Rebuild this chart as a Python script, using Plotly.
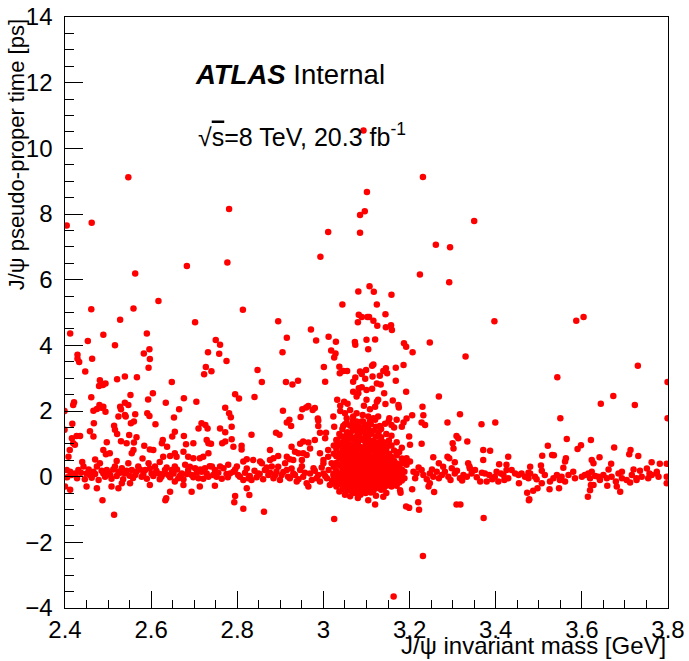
import plotly.graph_objects as go

# ---------------- data (J/psi mass [GeV], pseudo-proper time [ps]) ----------------
upper_points = [
    (2.547, 9.12), (2.404, 7.65), (2.462, 7.73), (2.781, 8.15), (2.563, 6.19), (2.683, 6.42),
    (2.777, 6.52), (2.617, 5.35), (2.461, 5.10), (2.559, 5.12), (2.813, 5.08), (3.093, 10.54),
    (3.231, 9.13), (3.101, 8.67), (3.096, 8.08), (3.085, 7.97), (3.011, 7.45), (3.085, 7.43),
    (3.261, 7.06), (3.294, 6.99), (2.993, 6.70), (3.224, 6.16), (3.292, 5.92), (3.107, 5.80),
    (3.081, 5.64), (3.117, 5.63), (3.158, 5.54), (3.044, 5.24), (3.124, 5.24), (3.350, 7.79),
    (3.587, 4.75), (3.604, 4.86), (3.730, 3.38), (3.543, 3.03), (3.799, 2.88), (3.673, 2.46),
    (3.644, 2.22), (3.723, 2.18), (3.550, 1.78), (3.799, 1.78),
]

mid_right_points = [
    (3.144, 4.95), (3.089, 4.86), (3.102, 4.86), (3.106, 4.86), (3.116, 4.75), (3.125, 4.60),
    (3.145, 4.55), (3.157, 4.61), (3.159, 4.47), (3.397, 4.73), (3.100, 4.17), (3.120, 4.18),
    (3.104, 3.88), (3.187, 4.06), (3.192, 3.96), (3.247, 4.09), (3.207, 3.79), (3.330, 3.66),
    (3.186, 3.40), (3.168, 3.32), (3.145, 3.30), (3.139, 3.22), (3.148, 3.15), (3.113, 3.38),
    (3.116, 3.42), (3.085, 3.20), (3.089, 3.13), (3.097, 2.98), (3.099, 3.25), (3.114, 3.05),
    (3.131, 3.07), (3.168, 2.92), (3.124, 2.84), (3.133, 2.81), (3.192, 2.59), (3.268, 2.44),
    (3.100, 2.64), (3.113, 2.68), (3.089, 2.72), (3.141, 2.54), (3.161, 2.32), (3.174, 2.18),
    (3.175, 2.11), (3.230, 2.13), (3.124, 2.28), (3.127, 2.34), (3.120, 2.13), (3.108, 2.05),
    (3.094, 2.16), (3.100, 2.34), (3.144, 2.21), (3.206, 1.87), (3.232, 1.87), (3.193, 1.77),
    (3.317, 1.90), (3.153, 1.78), (3.127, 1.83), (3.116, 1.78), (3.104, 1.83), (3.091, 1.88),
]

mid_centre_points = [
    (2.895, 4.73), (2.971, 4.48), (3.082, 4.93), (3.080, 4.70), (2.915, 4.23), (2.983, 4.15),
    (3.012, 4.26), (3.029, 4.11), (2.750, 4.16), (2.760, 4.02), (3.073, 4.10), (3.074, 4.02),
    (2.905, 3.79), (2.758, 3.74), (3.018, 3.84), (3.028, 3.75), (3.025, 3.63), (2.775, 3.52),
    (2.740, 3.21), (2.847, 3.25), (3.001, 3.34), (3.037, 3.35), (3.046, 3.22), (3.038, 3.15),
    (3.055, 3.22), (2.857, 2.88), (2.913, 2.88), (2.928, 2.81), (2.941, 2.92), (3.004, 2.89),
    (3.074, 3.02), (3.069, 2.89), (3.082, 2.69), (3.069, 2.59), (3.077, 2.44), (3.081, 2.54),
    (2.795, 2.51), (2.804, 2.38), (2.840, 2.43), (3.032, 2.34), (3.039, 2.16), (3.048, 2.28),
    (3.056, 2.22), (2.772, 2.10), (2.781, 1.93), (2.785, 1.81), (2.906, 2.01), (2.951, 2.05),
    (2.960, 2.11), (2.965, 2.15), (2.975, 2.03), (2.980, 2.09), (2.947, 1.82), (2.921, 1.73),
    (2.987, 1.77), (3.023, 1.83), (3.039, 2.00), (3.050, 1.93), (3.062, 2.03), (3.069, 1.83),
    (3.077, 1.93), (3.054, 1.78),
]

mid_left_points = [
    (2.528, 4.78), (2.702, 4.70), (2.412, 4.36), (2.489, 4.32), (2.590, 4.36), (2.453, 4.13),
    (2.516, 4.00), (2.583, 3.75), (2.596, 3.88), (2.597, 3.58), (2.594, 3.32), (2.429, 3.71),
    (2.429, 3.59), (2.433, 3.49), (2.463, 3.59), (2.732, 3.79), (2.727, 3.34), (2.723, 3.12),
    (2.447, 3.20), (2.539, 3.05), (2.521, 2.97), (2.567, 3.03), (2.481, 2.94), (2.479, 2.76),
    (2.488, 2.79), (2.494, 2.84), (2.648, 2.88), (2.604, 2.54), (2.552, 2.49), (2.461, 2.42),
    (2.676, 2.39), (2.593, 2.35), (2.421, 2.27), (2.419, 2.18), (2.539, 2.25), (2.547, 2.18),
    (2.634, 2.25), (2.705, 2.28), (2.480, 2.18), (2.485, 2.10), (2.489, 2.13), (2.474, 2.06),
    (2.466, 2.01), (2.494, 1.98), (2.528, 2.13), (2.530, 2.05), (2.524, 1.83), (2.539, 1.88),
    (2.541, 1.83), (2.665, 2.05), (2.399, 2.00), (2.563, 1.90), (2.591, 1.93), (2.596, 1.85),
    (2.653, 1.80),
]

left_band_points = [
    (2.417, 1.61), (2.399, 1.43), (2.467, 1.63), (2.514, 1.55), (2.516, 1.43), (2.521, 1.30),
    (2.553, 1.63), (2.560, 1.68), (2.549, 1.27), (2.566, 1.20), (2.610, 1.60), (2.458, 1.38),
    (2.466, 1.22), (2.427, 1.24), (2.435, 1.24), (2.416, 1.17), (2.419, 1.02), (2.423, 0.97),
    (2.411, 0.81), (2.408, 0.61), (2.497, 1.05), (2.489, 0.81), (2.495, 0.68), (2.504, 0.71),
    (2.530, 1.08), (2.543, 1.02), (2.560, 1.04), (2.584, 0.94), (2.597, 0.83), (2.605, 0.81),
    (2.559, 0.81), (2.555, 0.71), (2.627, 1.12), (2.625, 1.02), (2.637, 0.91), (2.649, 1.22),
    (2.655, 1.37), (2.676, 1.24), (2.681, 0.99), (2.698, 1.02), (2.710, 1.47), (2.717, 1.63),
    (2.726, 1.57), (2.731, 1.47), (2.729, 1.12), (2.733, 1.02), (2.655, 0.71), (2.659, 0.61),
    (2.644, 0.63), (2.628, 0.61), (2.675, 0.76), (2.686, 0.61), (2.698, 0.56), (2.713, 0.56),
    (2.721, 0.61), (2.733, 0.71), (2.440, 0.45), (2.470, 0.52), (2.520, 0.48), (2.580, 0.55),
    (2.620, 0.45),
    (2.404, 0.20), (2.412, 0.15), (2.423, 0.10), (2.431, 0.20), (2.443, 0.31), (2.450, 0.10),
    (2.458, 0.05), (2.466, 0.15), (2.474, 0.31), (2.481, 0.41), (2.489, 0.10), (2.497, 0.20),
    (2.505, 0.05), (2.516, 0.31), (2.524, 0.15), (2.532, 0.26), (2.539, 0.10), (2.547, 0.41),
    (2.555, 0.20), (2.563, 0.05), (2.570, 0.31), (2.578, 0.00), (2.586, 0.20), (2.594, 0.41),
    (2.601, 0.10), (2.609, 0.31), (2.617, 0.10), (2.624, 0.00), (2.632, 0.20), (2.640, 0.05),
    (2.648, 0.20), (2.655, 0.31), (2.663, -0.05), (2.671, 0.10), (2.679, 0.36), (2.686, 0.20),
    (2.694, 0.05), (2.702, 0.26), (2.710, -0.05), (2.717, 0.15), (2.725, 0.26), (2.733, 0.00),
    (2.405, -0.02), (2.415, 0.05), (2.428, -0.05), (2.437, 0.12), (2.446, -0.08), (2.455, 0.22),
    (2.462, -0.03), (2.470, 0.08), (2.478, -0.10), (2.485, 0.18), (2.493, 0.00), (2.500, 0.12),
    (2.508, -0.06), (2.512, 0.22), (2.520, 0.02), (2.528, 0.12), (2.535, -0.08), (2.543, 0.18),
    (2.550, 0.03), (2.558, -0.04), (2.566, 0.15), (2.574, 0.22), (2.582, 0.08), (2.590, -0.06),
    (2.597, 0.25), (2.605, 0.02), (2.612, 0.18), (2.620, -0.08), (2.628, 0.08), (2.636, 0.28),
    (2.644, -0.02), (2.652, 0.10), (2.660, 0.22), (2.667, 0.03), (2.675, -0.08), (2.683, 0.08),
    (2.690, 0.30), (2.698, -0.02), (2.706, 0.12), (2.714, 0.22), (2.721, -0.06), (2.729, 0.10),
    (2.736, 0.32),
    (2.400, -0.30), (2.412, -0.40), (2.450, -0.30), (2.474, -0.35), (2.508, -0.30), (2.524, -0.35),
    (2.532, -0.20), (2.551, -0.20), (2.597, -0.25), (2.644, -0.46), (2.655, -0.15), (2.675, -0.25),
    (2.694, -0.46), (2.713, -0.30), (2.635, -0.66),
]

centre_band_points = [
    (2.760, 1.47), (2.772, 1.35), (2.787, 1.52), (2.787, 1.14), (2.772, 1.07), (2.765, 1.02),
    (2.791, 0.91), (2.739, 1.00), (2.810, 0.94), (2.810, 0.83), (2.833, 1.28), (2.890, 1.34),
    (2.898, 1.28), (2.915, 1.65), (2.925, 1.54), (2.988, 1.71), (2.988, 1.54), (2.992, 1.34),
    (3.006, 1.34), (3.004, 1.17), (3.025, 1.52), (2.876, 0.81), (2.926, 0.91), (2.946, 1.00),
    (2.953, 1.07), (2.965, 1.04), (2.969, 0.86), (2.980, 1.12), (2.934, 0.76), (2.942, 0.71),
    (2.953, 0.71), (2.961, 0.66), (2.950, 0.51), (2.930, 0.51), (2.915, 0.61), (2.922, 0.53),
    (2.895, 0.63), (2.884, 0.56), (2.876, 0.51), (2.853, 0.46), (2.837, 0.51), (2.822, 0.53),
    (2.814, 0.46), (2.992, 0.71), (3.000, 0.51), (3.011, 0.81), (3.011, 0.61), (3.019, 0.41),
    (3.000, 0.41),
    (2.741, 0.31), (2.748, 0.20), (2.744, 0.05), (2.760, 0.31), (2.768, 0.26), (2.779, 0.36),
    (2.783, 0.10), (2.791, 0.15), (2.799, 0.31), (2.806, 0.00), (2.814, -0.10), (2.826, -0.05),
    (2.833, -0.10), (2.849, 0.10), (2.857, 0.41), (2.864, 0.20), (2.872, 0.05), (2.880, 0.31),
    (2.884, -0.05), (2.891, 0.15), (2.899, -0.10), (2.903, 0.05), (2.911, 0.41), (2.915, 0.20),
    (2.922, -0.05), (2.930, 0.10), (2.938, -0.15), (2.946, 0.20), (2.953, 0.00), (2.961, -0.20),
    (2.965, -0.30), (2.969, 0.10), (2.977, 0.26), (2.984, -0.05), (2.992, -0.15), (3.000, 0.10),
    (3.008, -0.05), (3.015, -0.25), (3.023, 0.05),
    (2.752, 0.00), (2.756, 0.12), (2.764, -0.06), (2.775, 0.08), (2.778, -0.02), (2.795, 0.22),
    (2.802, 0.05), (2.818, 0.12), (2.822, 0.25), (2.829, 0.02), (2.840, 0.18), (2.845, -0.02),
    (2.852, 0.08), (2.860, -0.08), (2.868, 0.28), (2.876, 0.12), (2.888, 0.05), (2.895, 0.30),
    (2.907, 0.14), (2.918, 0.00), (2.926, 0.25), (2.934, 0.05), (2.942, -0.08), (2.950, 0.32),
    (2.957, 0.12), (2.973, -0.10), (2.980, 0.18), (2.988, 0.05), (2.996, 0.28), (3.004, 0.02),
    (3.012, 0.20), (3.020, -0.12),
    (2.748, -0.28), (2.795, -0.59), (2.822, -0.35), (2.828, -0.56),
]

low_points = [
    (2.487, -0.72), (2.514, -1.16), (2.633, -0.72), (2.793, -0.78), (2.814, -0.98), (2.862, -1.07),
    (3.025, -1.29), (3.104, -0.72), (3.120, -0.85), (3.192, -0.91), (3.199, -0.95), (3.220, -0.78),
    (3.222, -1.01), (3.231, -2.42), (3.163, -3.65), (3.309, -0.85), (3.318, -0.85), (3.372, -1.26),
    (3.477, -0.72), (3.247, -0.20), (3.244, -0.30), (3.257, -0.47), (3.206, -0.38), (3.178, -0.41),
    (3.179, -0.49), (3.139, -0.61),
]

right_band_points = [
    (3.228, 1.65), (3.236, 1.57), (3.288, 1.65), (3.367, 1.60), (3.399, 1.65), (3.199, 1.22),
    (3.201, 0.97), (3.228, 1.00), (3.309, 1.24), (3.313, 1.17), (3.300, 1.02), (3.302, 0.86),
    (3.334, 1.07), (3.371, 0.81), (3.387, 0.79), (3.429, 0.61), (3.371, 0.51), (3.288, 0.61),
    (3.292, 0.56), (3.255, 0.59), (3.268, 0.41), (3.305, 0.44), (3.336, 0.41), (3.339, 0.31),
    (3.408, 0.38), (3.425, 0.36), (3.193, 0.56), (3.201, 0.46), (3.193, 0.36), (3.182, 0.41),
    (3.170, 0.20),
    (3.209, 0.15), (3.216, 0.10), (3.228, 0.20), (3.232, 0.05), (3.247, 0.10), (3.255, 0.00),
    (3.263, 0.15), (3.275, 0.05), (3.282, 0.15), (3.290, 0.00), (3.298, 0.26), (3.305, 0.10),
    (3.317, -0.05), (3.325, 0.05), (3.333, 0.00), (3.344, 0.10), (3.352, 0.20), (3.364, -0.15),
    (3.375, 0.10), (3.379, -0.15), (3.398, 0.00), (3.402, 0.15), (3.406, -0.15), (3.418, 0.05),
    (3.425, 0.20), (3.429, -0.05), (3.213, -0.05), (3.221, 0.28), (3.240, -0.08), (3.252, 0.22),
    (3.268, -0.05), (3.278, 0.30), (3.295, -0.10), (3.310, 0.18), (3.322, -0.12), (3.340, 0.25),
    (3.356, -0.02), (3.368, 0.12), (3.385, 0.05), (3.392, -0.08), (3.412, 0.10), (3.420, -0.10),
]

far_right_points = [
    (3.565, 1.15), (3.621, 1.12), (3.598, 0.96), (3.590, 0.84), (3.521, 0.94), (3.675, 0.89),
    (3.713, 0.81), (3.710, 0.68), (3.731, 0.63), (3.508, 0.64), (3.531, 0.66), (3.535, 0.65),
    (3.563, 0.56), (3.561, 0.46), (3.623, 0.51), (3.627, 0.41), (3.641, 0.59), (3.668, 0.39),
    (3.762, 0.44), (3.781, 0.39), (3.797, 0.39), (3.505, 0.34), (3.507, 0.18), (3.480, 0.30),
    (3.476, 0.12), (3.557, 0.27), (3.662, 0.22), (3.693, 0.15), (3.720, 0.22), (3.735, 0.18),
    (3.751, 0.25), (3.757, 0.10), (3.774, 0.15), (3.778, 0.00),
    (3.437, 0.20), (3.445, 0.10), (3.453, 0.05), (3.460, 0.10), (3.468, 0.00), (3.476, -0.05),
    (3.480, 0.10), (3.491, 0.00), (3.495, -0.08), (3.507, -0.20), (3.514, 0.05), (3.526, -0.15),
    (3.534, -0.05), (3.542, 0.05), (3.549, -0.10), (3.553, 0.00), (3.561, -0.15), (3.569, 0.05),
    (3.580, 0.15), (3.584, -0.05), (3.600, 0.00), (3.607, 0.05), (3.615, 0.10), (3.619, -0.05),
    (3.623, 0.15), (3.631, 0.02), (3.638, 0.00), (3.642, -0.10), (3.650, 0.05), (3.658, -0.05),
    (3.669, 0.00), (3.679, -0.15), (3.685, 0.10), (3.693, -0.05), (3.704, -0.10), (3.716, 0.05),
    (3.727, -0.05), (3.739, 0.00), (3.754, -0.05), (3.762, 0.05), (3.774, 0.10), (3.797, 0.00),
    (3.797, -0.20),
    (3.454, -0.20), (3.473, -0.49), (3.478, -0.69), (3.487, -0.43), (3.497, -0.35), (3.525, -0.38),
    (3.547, -0.35), (3.614, -0.61), (3.619, -0.41), (3.627, -0.25), (3.659, -0.28), (3.681, -0.30),
    (3.689, -0.46), (3.712, -0.18), (3.727, -0.10), (3.621, -0.25),
]

peak_upper_points = [
    (3.089, 1.68), (3.097, 1.57), (3.108, 1.68), (3.120, 1.73), (3.131, 1.54), (3.143, 1.61),
    (3.151, 1.68), (3.158, 1.57), (3.170, 1.73), (3.182, 1.52), (3.186, 1.65), (3.031, 1.12),
    (3.035, 0.96), (3.042, 1.22), (3.054, 1.32), (3.046, 1.54), (3.054, 1.63), (3.071, 1.57),
    (3.077, 1.68),
]

# J/psi peak region: mass column -> pseudo-proper times
peak_columns = [
    (3.024, [0.70, 0.30, 0.10, -0.08, -0.20, 0.95]),
    (3.030, [0.85, 0.42, 0.18, 0.02, -0.12, -0.30, 1.12, 0.62]),
    (3.037, [1.30, 0.95, 0.70, 0.35, 0.10, -0.05, -0.22, -0.45, 0.55]),
    (3.044, [1.45, 1.05, 0.80, 0.50, 0.25, 0.08, -0.08, -0.20, -0.38, 0.62]),
    (3.050, [1.60, 1.20, 0.90, 0.65, 0.40, 0.20, 0.02, -0.15, -0.32, -0.55, 1.00]),
    (3.056, [1.35, 1.10, 0.78, 0.55, 0.30, 0.12, -0.05, -0.25, -0.42, 0.92, 0.45]),
    (3.062, [1.55, 1.25, 0.98, 0.72, 0.48, 0.28, 0.10, -0.02, -0.18, -0.35, -0.60, 0.60]),
    (3.068, [1.70, 1.40, 1.15, 0.88, 0.62, 0.38, 0.18, 0.05, -0.10, -0.28, -0.48, 0.80]),
    (3.074, [1.48, 1.20, 0.95, 0.70, 0.50, 0.30, 0.15, 0.00, -0.15, -0.32, -0.50, 1.08]),
    (3.080, [1.62, 1.32, 1.05, 0.82, 0.58, 0.40, 0.22, 0.08, -0.06, -0.22, -0.40, -0.65, 0.95]),
    (3.086, [1.50, 1.18, 0.90, 0.66, 0.45, 0.26, 0.12, -0.02, -0.18, -0.36, -0.55, 1.35]),
    (3.092, [1.68, 1.40, 1.12, 0.85, 0.60, 0.38, 0.20, 0.05, -0.10, -0.26, -0.45, 0.72]),
    (3.098, [1.55, 1.25, 1.00, 0.75, 0.52, 0.32, 0.16, 0.02, -0.14, -0.30, -0.50, 0.88]),
    (3.104, [1.45, 1.15, 0.92, 0.68, 0.46, 0.28, 0.10, -0.05, -0.20, -0.38, 1.30]),
    (3.110, [1.60, 1.30, 1.02, 0.78, 0.55, 0.35, 0.18, 0.03, -0.12, -0.28, -0.48, 0.62]),
    (3.116, [1.40, 1.10, 0.85, 0.60, 0.40, 0.22, 0.06, -0.10, -0.25, -0.42, 0.95]),
    (3.122, [1.52, 1.22, 0.95, 0.70, 0.48, 0.30, 0.12, -0.03, -0.18, -0.35, -0.58]),
    (3.128, [1.35, 1.05, 0.80, 0.55, 0.35, 0.16, 0.00, -0.15, -0.32, 0.66]),
    (3.134, [1.20, 0.90, 0.62, 0.40, 0.22, 0.06, -0.08, -0.22, -0.40, 1.45]),
    (3.140, [1.05, 0.75, 0.50, 0.30, 0.12, -0.02, -0.18, -0.35, 0.92]),
    (3.146, [1.30, 0.85, 0.58, 0.36, 0.18, 0.02, -0.12, -0.28, -0.50]),
    (3.152, [1.10, 0.70, 0.45, 0.25, 0.08, -0.06, -0.22, 0.95]),
    (3.158, [0.95, 0.60, 0.38, 0.18, 0.02, -0.12, -0.30, 1.25]),
    (3.164, [0.80, 0.48, 0.28, 0.10, -0.05, -0.20, 1.50]),
    (3.170, [0.65, 0.40, 0.05, -0.10, -0.28, 1.05]),
    (3.176, [0.75, 0.30, 0.12, -0.02, -0.18]),
    (3.182, [0.55, 0.22, 0.02, -0.12, 0.88]),
    (3.188, [0.42, 0.15, -0.05]),
]

x_tick_values = [2.4, 2.6, 2.8, 3.0, 3.2, 3.4, 3.6, 3.8]
x_tick_labels = ["2.4", "2.6", "2.8", "3", "3.2", "3.4", "3.6", "3.8"]
y_tick_values = [-4, -2, 0, 2, 4, 6, 8, 10, 12, 14]
y_tick_labels = ["\u22124", "\u22122", "0", "2", "4", "6", "8", "10", "12", "14"]

# ---------------- assemble ----------------
mass, ptime = [], []
for group in (upper_points, mid_right_points, mid_centre_points, mid_left_points,
              left_band_points, centre_band_points, low_points, right_band_points,
              far_right_points, peak_upper_points):
    for m, t in group:
        mass.append(m)
        ptime.append(t)
for m, ts in peak_columns:
    for t in ts:
        mass.append(m)
        ptime.append(t)

FONT = "Liberation Sans, Arial, Helvetica, sans-serif"

fig = go.Figure()
fig.add_trace(go.Scatter(
    x=mass, y=ptime, mode="markers",
    marker=dict(color="#ff0000", size=6.5, line=dict(width=0)),
    showlegend=False, hoverinfo="x+y",
))

axis_common = dict(
    showline=True, linecolor="black", linewidth=1, mirror=True, automargin=False,
    showgrid=False, zeroline=False, ticks="inside", tickcolor="black",
    tickwidth=1, tickfont=dict(family=FONT, size=24, color="black"),
)

fig.update_xaxes(
    range=[2.4, 3.8], tickvals=x_tick_values, ticktext=x_tick_labels,
    ticklen=17,
    minor=dict(dtick=0.05, ticks="inside", ticklen=8, tickcolor="black", showgrid=False),
    **axis_common,
)
fig.update_yaxes(
    range=[-4, 14], tickvals=y_tick_values,
    ticktext=[lbl + "\u00a0" for lbl in y_tick_labels],
    ticklen=18,
    minor=dict(dtick=0.5, ticks="inside", ticklen=9, tickcolor="black", showgrid=False),
    **axis_common,
)

fig.update_layout(
    width=689, height=661,
    margin=dict(l=65, r=21, t=17, b=53, autoexpand=False),
    paper_bgcolor="white", plot_bgcolor="white",
    font=dict(family=FONT, color="black"),
    annotations=[
        dict(text="<b><i>ATLAS</i></b> Internal", xref="x", yref="y", x=2.697, y=12.25,
             xanchor="left", yanchor="middle", showarrow=False,
             font=dict(family=FONT, size=27.5, color="black")),
        dict(text="\u221a<span style='text-decoration:overline'>s</span>=8 TeV, 20.3 fb<sup>-1</sup>",
             xref="x", yref="y", x=2.704, y=10.4, xanchor="left", yanchor="middle",
             showarrow=False, font=dict(family=FONT, size=25, color="black")),
        dict(text="J/\u03c8 invariant mass [GeV]", xref="paper", yref="paper", x=1.0, y=-0.063,
             xanchor="right", yanchor="middle", showarrow=False,
             font=dict(family=FONT, size=24, color="black")),
        dict(text="J/\u03c8 pseudo-proper time [ps]", xref="paper", yref="paper", x=-0.08, y=1.0,
             xanchor="center", yanchor="top", textangle=-90, showarrow=False,
             font=dict(family=FONT, size=22, color="black")),
    ],
)

fig.write_html(
    "out.html",
    config={"displayModeBar": False},
    post_script="document.body.style.margin='0';document.body.style.padding='0';"
                "document.documentElement.style.overflow='hidden';",
)
